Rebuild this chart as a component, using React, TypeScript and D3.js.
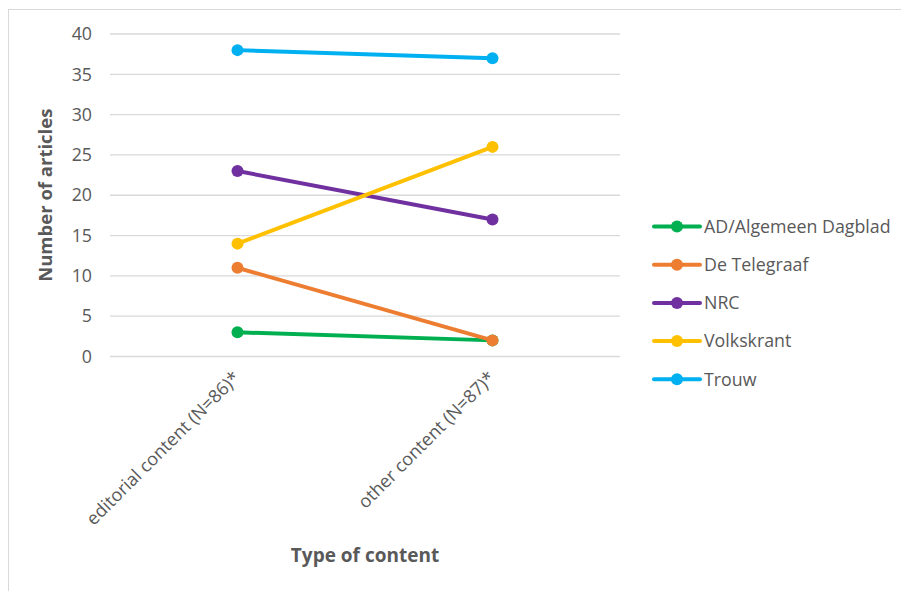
import React from "react";
import * as d3 from "d3";

const categories = ["editorial content (N=86)*", "other content (N=87)*"];
const seriesNames = ["AD/Algemeen Dagblad", "De Telegraaf", "NRC", "Volkskrant", "Trouw"];
const adValues = [3, 2];
const telegraafValues = [11, 2];
const nrcValues = [23, 17];
const volkskrantValues = [14, 26];
const trouwValues = [38, 37];
const seriesColors = ["#00B050", "#ED7D31", "#7030A0", "#FFC000", "#00B0F0"];
const yTicks = [0, 5, 10, 15, 20, 25, 30, 35, 40];

const allValues = [adValues, telegraafValues, nrcValues, volkskrantValues, trouwValues];

export default function App() {
  const W = 901, H = 591;
  const plotLeft = 110, plotRight = 620, plotTop = 34, plotBottom = 356.5;
  const x = d3.scaleBand<string>().domain(categories).range([plotLeft, plotRight]);
  const y = d3.scaleLinear().domain([0, 40]).range([plotBottom, plotTop]);
  const cx = (c: string) => (x(c) as number) + x.bandwidth() / 2;
  const line = d3.line<number>().x((_, i) => cx(categories[i])).y(d => y(d));
  const font = "Open Sans, Liberation Sans, sans-serif";
  const textColor = "#595959";
  return (
    <svg width={W} height={H} style={{ position: "absolute", left: 0, top: 0, background: "#fff" }} fontFamily={font}>
      <rect x={8.5} y={9.5} width={W + 10} height={H + 10} fill="#fff" stroke="#D9D9D9" strokeWidth={1} />
      {yTicks.map(t => (
        <g key={t}>
          <line x1={plotLeft} x2={plotRight} y1={y(t)} y2={y(t)} stroke="#D9D9D9" strokeWidth={1.3} />
          <text x={92} y={y(t)} dy="0.35em" textAnchor="end" fontSize={17.8} fill={textColor}>{t}</text>
        </g>
      ))}
      {categories.map(c => (
        <text key={c} transform={`translate(${cx(c) - 1},${plotBottom + 18}) rotate(-45)`} textAnchor="end" fontSize={18} fill={textColor} dy="0.35em">{c}</text>
      ))}
      {allValues.map((vals, si) => (
        <g key={seriesNames[si]}>
          <path d={line(vals) || ""} fill="none" stroke={seriesColors[si]} strokeWidth={4} strokeLinecap="round" />
          {vals.map((v, i) => (
            <circle key={i} cx={cx(categories[i])} cy={y(v)} r={6} fill={seriesColors[si]} />
          ))}
        </g>
      ))}
      <text transform={`translate(52,${(plotTop + plotBottom) / 2}) rotate(-90)`} textAnchor="middle" fontSize={18.5} fontWeight="bold" fill={textColor}>Number of articles</text>
      <text x={365} y={562} textAnchor="middle" fontSize={19} fontWeight="bold" fill={textColor}>Type of content</text>
      {seriesNames.map((name, i) => {
        const ly = 226.5 + i * 38.2;
        return (
          <g key={name}>
            <line x1={654} x2={700} y1={ly} y2={ly} stroke={seriesColors[i]} strokeWidth={4} strokeLinecap="round" />
            <circle cx={677} cy={ly} r={6} fill={seriesColors[i]} />
            <text x={704} y={ly} dy="0.35em" fontSize={17.8} fill={textColor}>{name}</text>
          </g>
        );
      })}
    </svg>
  );
}
